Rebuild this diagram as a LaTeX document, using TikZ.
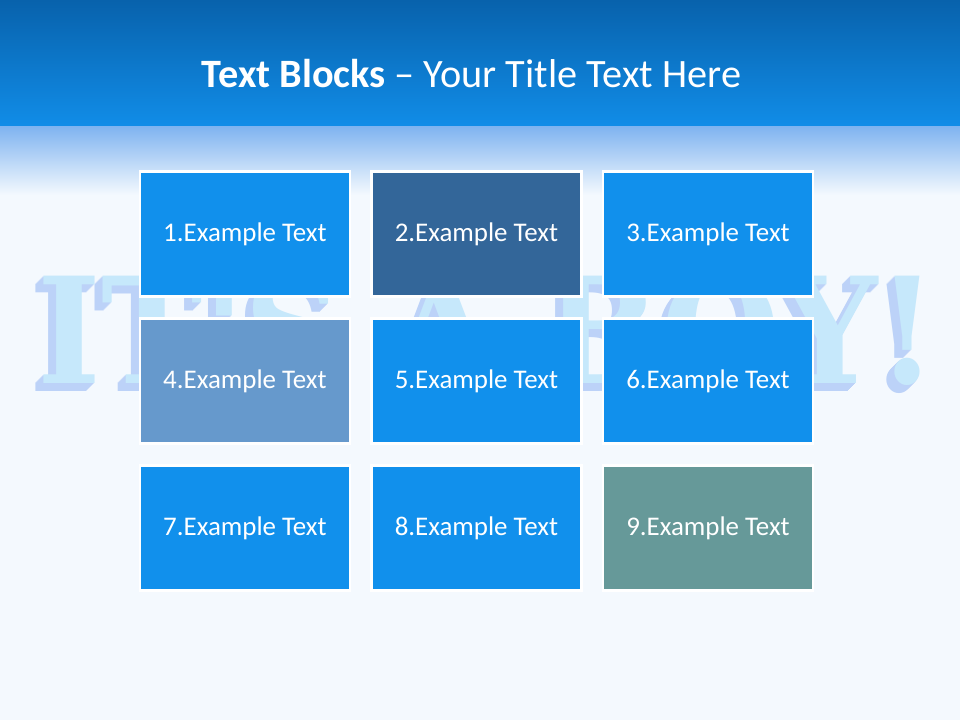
\documentclass[tikz,border=0pt]{standalone}
\usepackage{fontspec}
\setmainfont{Carlito}
\newfontfamily\slabfont{DejaVu Serif}
\usepackage{graphicx}
\definecolor{bgc}{HTML}{F4F9FE}
\definecolor{topdark}{HTML}{0862AC}
\definecolor{topmid}{HTML}{118DE8}
\definecolor{fadeA}{HTML}{80B4F0}
\definecolor{boxblue}{HTML}{1190EC}
\definecolor{boxnavy}{HTML}{336699}
\definecolor{boxsteel}{HTML}{6699CC}
\definecolor{boxteal}{HTML}{669999}
\definecolor{wmfront}{HTML}{C6E8FB}
\definecolor{wmside}{HTML}{BCD2F8}
\newcommand\wmtext{\resizebox{675pt}{82pt}{\slabfont\bfseries IT'S A BOY!}}
\newcommand\wmlayer[1]{\rlap{\hspace*{-#1pt}\raisebox{-#1pt}{\color{wmside}\wmtext}}}
\begin{document}
\begin{tikzpicture}[x=0.75pt,y=-0.75pt,
  tblock/.style={draw=white,line width=2pt,fill=boxblue,minimum width=157.5pt,minimum height=93.5pt,inner sep=0pt,text=white,font=\fontsize{20.2}{24}\selectfont},
  wm/.style={inner sep=0pt,anchor=center}]
\useasboundingbox (0,0) rectangle (960,720);
\fill[bgc] (0,0) rectangle (960,720);
\shade[top color=topdark,bottom color=topmid] (0,0) rectangle (960,127);
\shade[top color=fadeA,bottom color=bgc] (0,127) rectangle (960,195);
% watermark (extruded 3D text, one node)
\node[wm,text=wmfront] (wmark) at (488,334) {\wmlayer{6}\wmlayer{5.25}\wmlayer{4.5}\wmlayer{3.75}\wmlayer{3}\wmlayer{2.25}\wmlayer{1.5}\wmlayer{0.75}\wmtext};
% title
\node[anchor=base,text=white,font=\fontsize{30.2}{34}\selectfont,inner sep=0pt] (title) at (471.5,88) {\textbf{Text Blocks} -- Your Title Text Here};
% blocks
\node[tblock] (b1) at (245,234) {1.Example Text};
\node[tblock,fill=boxnavy] (b2) at (476.5,234) {2.Example Text};
\node[tblock] (b3) at (708,234) {3.Example Text};
\node[tblock,fill=boxsteel] (b4) at (245,381) {4.Example Text};
\node[tblock] (b5) at (476.5,381) {5.Example Text};
\node[tblock] (b6) at (708,381) {6.Example Text};
\node[tblock] (b7) at (245,528) {7.Example Text};
\node[tblock] (b8) at (476.5,528) {8.Example Text};
\node[tblock,fill=boxteal] (b9) at (708,528) {9.Example Text};
\end{tikzpicture}
\end{document}
